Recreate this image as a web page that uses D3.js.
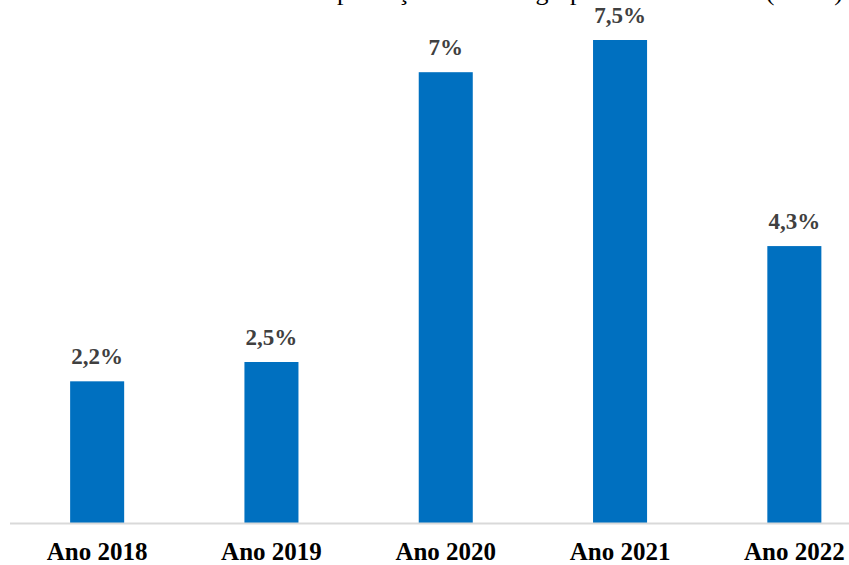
<!DOCTYPE html>
<html>
<head>
<meta charset="utf-8">
<script src="https://cdn.jsdelivr.net/npm/d3@7"></script>
<style>
  body { margin: 0; background: #fff; }
  svg { display: block; }
</style>
</head>
<body>
<script>
// chart data
const categories = ['Ano 2018', 'Ano 2019', 'Ano 2020', 'Ano 2021', 'Ano 2022'];
const values = [2.2, 2.5, 7, 7.5, 4.3];
const valueLabels = ['2,2%', '2,5%', '7%', '7,5%', '4,3%'];
const title = 'Taxa de crescimento da produção total da agropecuária no Brasil (em %)';

const width = 849;
const height = 565;
const baseY = 523;

const svg = d3.select('body')
  .append('svg')
  .attr('width', width)
  .attr('height', height);

// scales
const xScale = d3.scaleBand()
  .domain(categories)
  .range([10, 881.5])
  .paddingInner(0.69)
  .paddingOuter(0.345);

const yScale = d3.scaleLinear()
  .domain([0, 7.5])
  .range([baseY, 40]);

// title (cut off at the top of the picture, only descenders show)
svg.append('text')
  .attr('x', 843)
  .attr('y', 0)
  .attr('text-anchor', 'end')
  .attr('font-family', 'Liberation Serif, Times New Roman, serif')
  .attr('font-size', '26px')
  .attr('fill', '#000')
  .text(title);

// bars
svg.selectAll('rect.bar')
  .data(values)
  .enter()
  .append('rect')
  .attr('class', 'bar')
  .attr('x', (d, i) => xScale(categories[i]))
  .attr('y', d => yScale(d))
  .attr('width', xScale.bandwidth())
  .attr('height', d => baseY - yScale(d))
  .attr('fill', '#0070C0');

// x axis
const xAxis = d3.axisBottom(xScale).tickSize(0).tickPadding(0);
const gx = svg.append('g')
  .attr('transform', `translate(0, ${baseY})`)
  .call(xAxis);
gx.select('.domain').remove();
gx.append('line')
  .attr('x1', 10)
  .attr('x2', width)
  .attr('y1', 0.5)
  .attr('y2', 0.5)
  .attr('stroke', '#d9d9d9')
  .attr('stroke-width', 2);
gx.selectAll('.tick text')
  .attr('dy', null)
  .attr('y', 37)
  .attr('font-family', 'Liberation Serif, Times New Roman, serif')
  .attr('font-size', '25px')
  .attr('font-weight', 'bold')
  .attr('fill', '#000');

// value labels
svg.selectAll('text.value')
  .data(values)
  .enter()
  .append('text')
  .attr('class', 'value')
  .attr('x', (d, i) => xScale(categories[i]) + xScale.bandwidth() / 2)
  .attr('y', d => yScale(d) - 17)
  .attr('text-anchor', 'middle')
  .attr('font-family', 'Liberation Serif, Times New Roman, serif')
  .attr('font-size', '23px')
  .attr('font-weight', 'bold')
  .attr('fill', '#404040')
  .text((d, i) => valueLabels[i]);
</script>
</body>
</html>
